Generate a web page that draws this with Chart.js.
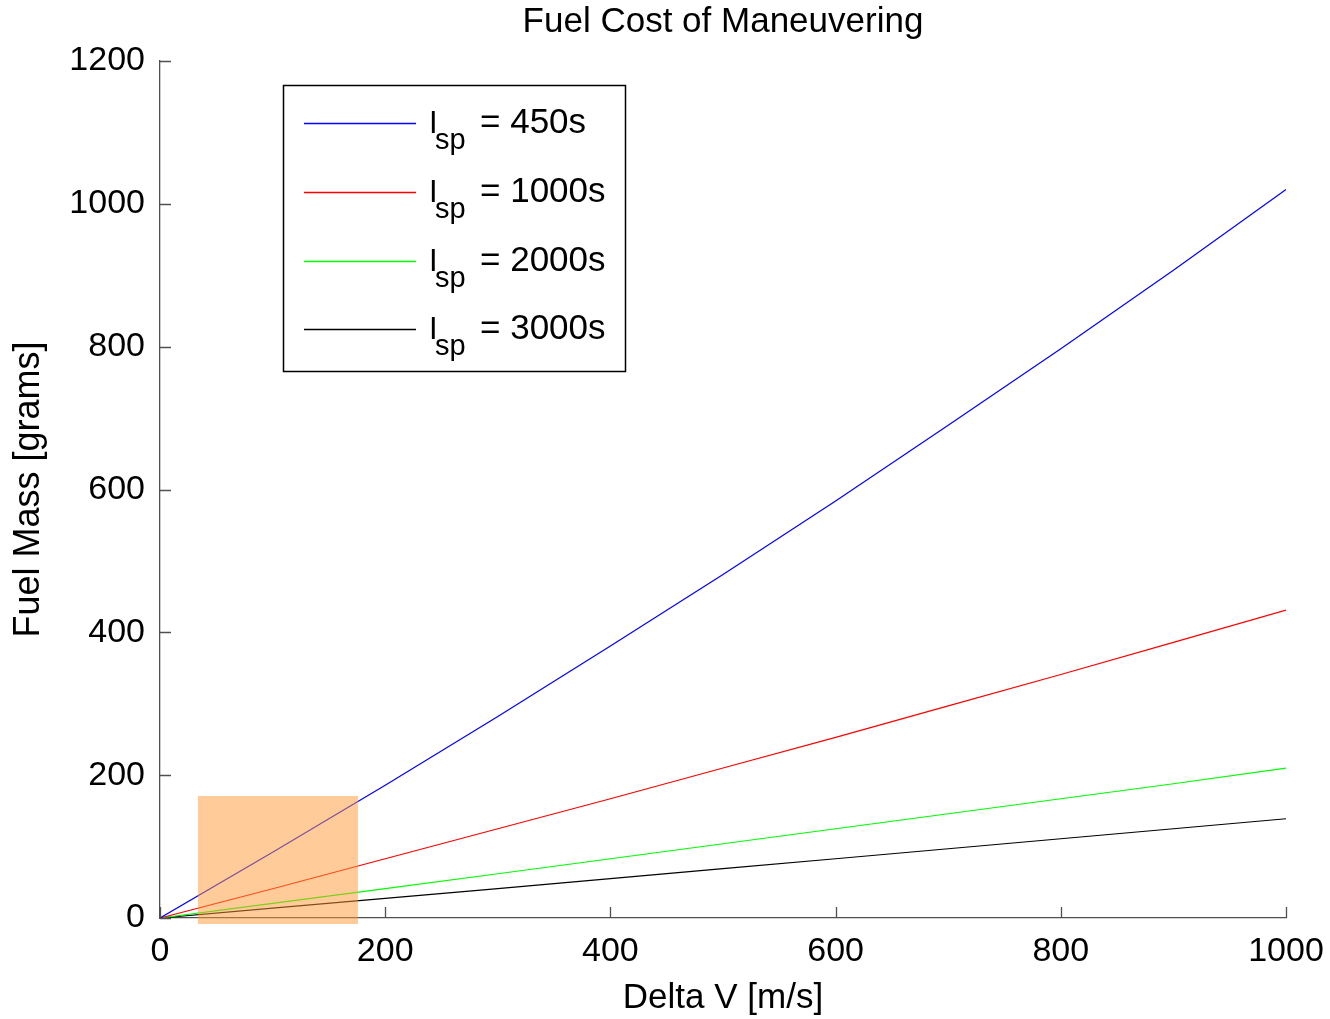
<!DOCTYPE html>
<html>
<head>
<meta charset="utf-8">
<script src="https://cdn.jsdelivr.net/npm/chart.js@4/dist/chart.umd.min.js"></script>
<style>
html,body{margin:0;padding:0;background:#fff;}
canvas{display:block;}
</style>
</head>
<body>
<canvas id="c" width="1330" height="1019"></canvas>
<script>
// ---- data ----
const deltaV = [0, 100, 200, 300, 400, 500, 600, 700, 800, 900, 1000];
const isp450  = [0, 92, 186, 282, 381, 481, 584, 690, 797, 907, 1020];
const isp1000 = [0, 41, 83, 125, 167, 210, 253, 297, 341, 386, 431];
const isp2000 = [0, 20.5, 41, 62, 83, 104, 125, 146, 167, 188, 210];
const isp3000 = [0, 13.7, 27.4, 41, 55, 69, 83, 97, 111, 125, 139];
const seriesLabels = ['450s', '1000s', '2000s', '3000s'];
const xTicks = [0, 200, 400, 600, 800, 1000];
const yTicks = [0, 200, 400, 600, 800, 1000, 1200];
// highlighted region (data units): x from..to, y from..to
const boxX = [33.7, 175.8];
const boxY = [-8.4, 170.8];

const FONT = "'Liberation Sans', Arial, Helvetica, sans-serif";
const AXIS_COLOR = '#505050';
const colors = ['#0000ff', '#ff0000', '#00ff00', '#000000'];
const seriesData = [isp450, isp1000, isp2000, isp3000];

const datasets = seriesData.map((arr, i) => ({
  label: 'Isp = ' + seriesLabels[i],
  data: deltaV.map((x, k) => ({x: x, y: arr[k]})),
  borderColor: colors[i],
  borderWidth: 1.2,
  pointRadius: 0,
  fill: false,
  tension: 0
}));

const overlayPlugin = {
  id: 'overlay',
  afterDatasetsDraw(chart) {
    const ctx = chart.ctx;
    const xs = chart.scales.x, ys = chart.scales.y;
    const x0 = xs.getPixelForValue(boxX[0]), x1 = xs.getPixelForValue(boxX[1]);
    const y0 = ys.getPixelForValue(boxY[1]), y1 = ys.getPixelForValue(boxY[0]);
    ctx.save();
    ctx.fillStyle = 'rgba(255,153,51,0.5)';
    ctx.fillRect(x0, y0, x1 - x0, y1 - y0);
    ctx.restore();
  },
  afterDraw(chart) {
    const ctx = chart.ctx;
    const xs = chart.scales.x, ys = chart.scales.y;
    const area = chart.chartArea;
    ctx.save();
    ctx.strokeStyle = AXIS_COLOR;
    ctx.lineWidth = 1.3;
    ctx.beginPath();
    xTicks.forEach(v => {
      const px = Math.round(xs.getPixelForValue(v)) + 0.5;
      ctx.moveTo(px, area.bottom);
      ctx.lineTo(px, area.bottom - 11);
    });
    yTicks.forEach(v => {
      const py = Math.round(ys.getPixelForValue(v)) + 0.5;
      ctx.moveTo(area.left, py);
      ctx.lineTo(area.left + 11, py);
    });
    ctx.stroke();

    // legend box
    const L = 283.5, T = 85.5, W = 342, H = 286;
    ctx.fillStyle = '#ffffff';
    ctx.fillRect(L, T, W, H);
    ctx.strokeStyle = '#000000';
    ctx.lineWidth = 1.5;
    ctx.strokeRect(L, T, W, H);
    const rowY = [123, 192, 261, 329];
    seriesLabels.forEach((lab, i) => {
      const y = rowY[i];
      ctx.strokeStyle = colors[i];
      ctx.lineWidth = 1.3;
      ctx.beginPath();
      ctx.moveTo(304, y + 0.5);
      ctx.lineTo(416, y + 0.5);
      ctx.stroke();
      ctx.fillStyle = '#000000';
      ctx.textBaseline = 'alphabetic';
      ctx.textAlign = 'left';
      ctx.font = '31px ' + FONT;
      ctx.fillText('I', 429, y + 10);
      ctx.font = '29px ' + FONT;
      ctx.fillText('sp', 435, y + 26);
      ctx.font = '35px ' + FONT;
      ctx.fillText('= ' + lab, 480, y + 10);
    });
    ctx.restore();
  }
};

new Chart(document.getElementById('c'), {
  type: 'line',
  data: { datasets },
  plugins: [overlayPlugin],
  options: {
    responsive: false,
    animation: false,
    devicePixelRatio: 1,
    layout: { padding: { left: 0, right: 44, top: 0, bottom: 0 } },
    plugins: {
      legend: { display: false },
      tooltip: { enabled: false },
      title: {
        display: true,
        fullSize: false,
        text: 'Fuel Cost of Maneuvering',
        color: '#000',
        font: { family: FONT, size: 35, weight: 'normal', lineHeight: 1.1 },
        padding: { top: 3, bottom: 19.5 }
      }
    },
    scales: {
      x: {
        type: 'linear',
        min: 0, max: 1000,
        afterFit: s => { s.height = 101; s.paddingLeft = 0; s.paddingRight = 0; },
        afterBuildTicks: s => { s.ticks = xTicks.map(v => ({value: v})); },
        ticks: { color: '#000', font: { family: FONT, size: 34 }, padding: 13, maxRotation: 0, autoSkip: false,
          callback: v => String(v) },
        grid: { drawOnChartArea: false, drawTicks: false },
        border: { display: true, color: AXIS_COLOR, width: 1.3 },
        title: { display: true, text: 'Delta V [m/s]', color: '#000',
          font: { family: FONT, size: 35, lineHeight: 1.2 }, padding: { top: 0, bottom: 0 } }
      },
      y: {
        type: 'linear',
        min: 0, max: 1200,
        afterFit: s => { s.width = 160; s.paddingTop = 0; s.paddingBottom = 0; },
        afterBuildTicks: s => { s.ticks = yTicks.map(v => ({value: v})); },
        ticks: { color: '#000', font: { family: FONT, size: 34 }, padding: 15, autoSkip: false,
          callback: v => String(v) },
        grid: { drawOnChartArea: false, drawTicks: false },
        border: { display: true, color: AXIS_COLOR, width: 1.3 },
        title: { display: true, text: 'Fuel Mass [grams]', color: '#000',
          font: { family: FONT, size: 36, lineHeight: 1.2 }, padding: { top: 7, bottom: 0 } }
      }
    }
  }
});
</script>
</body>
</html>
